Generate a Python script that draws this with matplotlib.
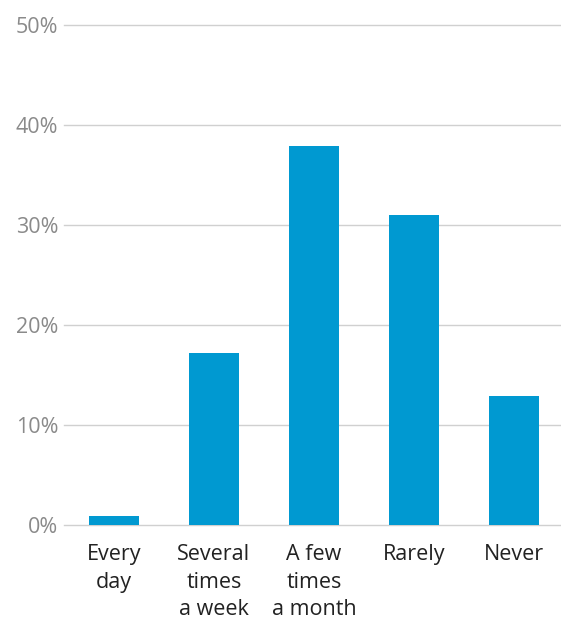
import matplotlib
matplotlib.use('Agg')
import matplotlib.pyplot as plt
from matplotlib.ticker import FuncFormatter

categories = ['Every\nday', 'Several\ntimes\na week', 'A few\ntimes\na month', 'Rarely', 'Never']
values = [0.9, 17.2, 37.9, 31.0, 12.9]
yticks = [0, 10, 20, 30, 40, 50]

plt.rcParams['font.family'] = ['Open Sans', 'DejaVu Sans']

fig = plt.figure(figsize=(5.61, 6.2), dpi=100)
ax = fig.add_axes([64 / 561, 1 - 525 / 620, 500 / 561, 500 / 620])

x = list(range(len(categories)))
ax.bar(x, values, width=0.5, color='#0099d1', zorder=3)

ax.set_xlim(-0.5, 4.5)
ax.set_ylim(0, 50)
ax.set_yticks(yticks)
ax.yaxis.set_major_formatter(FuncFormatter(lambda v, p: '%d%%' % v))
ax.set_xticks(x)
ax.set_xticklabels(categories, fontsize=15.5, color='#222222', linespacing=1.38)
ax.tick_params(axis='y', labelsize=15.5, labelcolor='#8a8a8a', length=0, pad=4)
ax.tick_params(axis='x', length=0, pad=14)
ax.grid(axis='y', color='#d0d0d0', linewidth=1, zorder=0)
for gl in ax.get_ygridlines():
    gl.set_clip_on(False)
for s in ax.spines.values():
    s.set_visible(False)

fig.savefig('out.png', dpi=100)
